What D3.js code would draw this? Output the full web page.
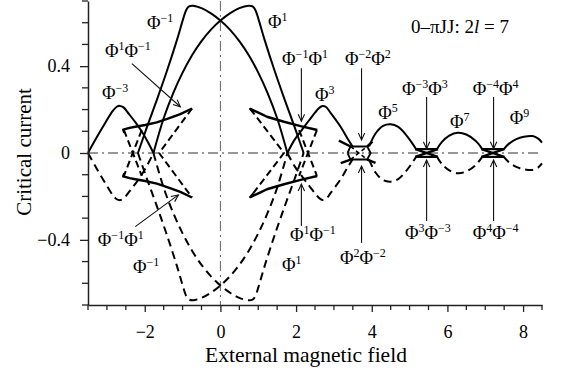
<!DOCTYPE html>
<html><head><meta charset="utf-8">
<script src="https://cdn.jsdelivr.net/npm/d3@7"></script>
<style>
body{margin:0;background:#fff;}
svg{display:block;font-family:"Liberation Serif","Times New Roman",serif;}
</style></head><body>
<svg id="chart" width="568" height="373"></svg>
<script>
// Critical current vs. external field for a 0-pi junction, 2l = 7.
// Each branch is a list of [field, current] pairs.

// positive critical current of the fluxon states (solid)
const phiM3 = [[-3.5,0],[-3.31,0.06],[-3.05,0.137],[-2.85,0.193],[-2.74,0.213],[-2.66,0.217],[-2.56,0.21],[-2.42,0.18],[-2.25,0.142],[-2.07,0.097],[-1.9,0.045],[-1.77,0]];
const phiM1 = [[-2.18,0],[-1.94,0.12],[-1.68,0.245],[-1.41,0.38],[-1.15,0.52],[-0.98,0.62],[-0.9,0.66],[-0.83,0.675],[-0.72,0.678],[-0.5,0.667],[-0.25,0.643],[0,0.61],[0.25,0.568],[0.5,0.515],[0.75,0.45],[1.0,0.37],[1.25,0.275],[1.5,0.16],[1.77,0]];
const phiP1 = [[-1.77,0],[-1.5,0.16],[-1.25,0.275],[-1.0,0.37],[-0.75,0.45],[-0.5,0.515],[-0.25,0.568],[0,0.61],[0.25,0.643],[0.5,0.667],[0.74,0.678],[0.85,0.675],[0.92,0.66],[1.0,0.62],[1.17,0.52],[1.43,0.38],[1.7,0.245],[1.96,0.12],[2.2,0]];
const phiP3 = [[1.77,0],[1.95,0.058],[2.16,0.108],[2.35,0.152],[2.5,0.186],[2.62,0.209],[2.7,0.216],[2.79,0.212],[2.91,0.185],[3.18,0.12],[3.36,0.067],[3.5,0.027]];
const phiP5 = [[3.93,0.03],[4.1,0.09],[4.3,0.125],[4.5,0.132],[4.7,0.12],[4.9,0.085],[5.05,0.05],[5.17,0.018]];
const phiP7 = [[5.72,0.016],[5.85,0.05],[6.05,0.08],[6.27,0.093],[6.5,0.085],[6.75,0.055],[6.92,0.018]];
const phiP9 = [[7.48,0.016],[7.62,0.042],[7.82,0.064],[8.02,0.075],[8.25,0.078],[8.4,0.066],[8.5,0.048]];

// negative critical current of the same states (dashed)
const phiM3n = [[-3.5,0],[-3.31,-0.06],[-3.05,-0.137],[-2.85,-0.193],[-2.74,-0.213],[-2.66,-0.217],[-2.56,-0.21],[-2.42,-0.18],[-2.25,-0.142],[-2.07,-0.097],[-1.9,-0.045],[-1.77,0]];
const phiM1n = [[-2.18,0],[-1.94,-0.12],[-1.68,-0.245],[-1.41,-0.38],[-1.15,-0.52],[-0.98,-0.62],[-0.9,-0.66],[-0.83,-0.675],[-0.72,-0.678],[-0.5,-0.667],[-0.25,-0.643],[0,-0.61],[0.25,-0.568],[0.5,-0.515],[0.75,-0.45],[1.0,-0.37],[1.25,-0.275],[1.5,-0.16],[1.77,0]];
const phiP1n = [[-1.77,0],[-1.5,-0.16],[-1.25,-0.275],[-1.0,-0.37],[-0.75,-0.45],[-0.5,-0.515],[-0.25,-0.568],[0,-0.61],[0.25,-0.643],[0.5,-0.667],[0.74,-0.678],[0.85,-0.675],[0.92,-0.66],[1.0,-0.62],[1.17,-0.52],[1.43,-0.38],[1.7,-0.245],[1.96,-0.12],[2.2,0]];
const phiP3n = [[1.77,0],[1.95,-0.058],[2.16,-0.108],[2.35,-0.152],[2.5,-0.186],[2.62,-0.209],[2.7,-0.216],[2.79,-0.212],[2.91,-0.185],[3.18,-0.12],[3.36,-0.067],[3.5,-0.027]];
const phiP5n = [[3.93,-0.03],[4.1,-0.09],[4.3,-0.125],[4.5,-0.132],[4.7,-0.12],[4.9,-0.085],[5.05,-0.05],[5.17,-0.018]];
const phiP7n = [[5.72,-0.016],[5.85,-0.05],[6.05,-0.08],[6.27,-0.093],[6.5,-0.085],[6.75,-0.055],[6.92,-0.018]];
const phiP9n = [[7.48,-0.016],[7.62,-0.042],[7.82,-0.064],[8.02,-0.075],[8.25,-0.078],[8.4,-0.066],[8.5,-0.048]];

// fluxon-antifluxon states near the first zeros
const arcUpL  = [[-2.54,0.093],[-2.57,0.108],[-2.4,0.116],[-2.25,0.121],[-1.99,0.129],[-1.68,0.141],[-1.37,0.159],[-1.06,0.179],[-0.75,0.205]];
const arcLowL = [[-2.54,-0.093],[-2.57,-0.108],[-2.4,-0.116],[-2.25,-0.121],[-1.99,-0.129],[-1.68,-0.141],[-1.37,-0.159],[-1.06,-0.179],[-0.75,-0.205]];
const arcUpR  = [[0.88,0.186],[0.79,0.203],[1.06,0.181],[1.23,0.167],[1.68,0.144],[2.12,0.124],[2.56,0.106]];
const arcLowR = [[0.88,-0.186],[0.79,-0.203],[1.06,-0.181],[1.23,-0.167],[1.68,-0.144],[2.12,-0.124],[2.56,-0.106]];
const crossL1 = [[-2.55,0.105],[-2.08,-0.105]];
const crossL2 = [[-2.08,0.105],[-2.55,-0.105]];
const wedgeL  = [[-0.75,0.205],[-1.62,0],[-0.75,-0.205]];
const crossR1 = [[2.55,0.105],[2.08,-0.105]];
const crossR2 = [[2.08,0.105],[2.55,-0.105]];
const wedgeR  = [[0.79,0.203],[1.68,0],[0.79,-0.203]];

// higher fluxon-antifluxon states
const hex2 = [[3.36,0],[3.44,0.03],[3.88,0.03],[3.97,0],[3.88,-0.03],[3.44,-0.03],[3.36,0]];
const arms2 = [[[3.13,0.057],[3.44,0.03]],[[3.88,0.03],[4.02,0.052]],[[3.18,-0.047],[3.44,-0.03]],[[3.88,-0.03],[4.1,-0.045]]];
const inner2 = [[[3.44,0.03],[3.88,-0.03]],[[3.44,-0.03],[3.88,0.03]]];
const bow3 = [[[5.15,0.018],[5.75,0.018]],[[5.15,-0.018],[5.75,-0.018]],[[5.15,0.018],[5.75,-0.018]],[[5.15,-0.018],[5.75,0.018]]];
const bow4 = [[[6.9,0.018],[7.5,0.018]],[[6.9,-0.018],[7.5,-0.018]],[[6.9,0.018],[7.5,-0.018]],[[6.9,-0.018],[7.5,0.018]]];

// axis ticks
const xTicks = [-2,0,2,4,6,8];
const yTicks = [-0.4,0,0.4];

// state labels: [field, current, [[base, superscript], ...]]
const labels = [
  [-1.94,0.571,[["Φ","−1"]]],
  [1.26,0.576,[["Φ","1"]]],
  [-3.05,0.442,[["Φ","1"],["Φ","−1"]]],
  [-3.13,0.249,[["Φ","−3"]]],
  [1.63,0.405,[["Φ","−1"],["Φ","1"]]],
  [3.29,0.405,[["Φ","−2"],["Φ","2"]]],
  [2.5,0.239,[["Φ","3"]]],
  [4.17,0.157,[["Φ","5"]]],
  [4.8,0.267,[["Φ","−3"],["Φ","3"]]],
  [6.67,0.267,[["Φ","−4"],["Φ","4"]]],
  [6.07,0.115,[["Φ","7"]]],
  [7.65,0.134,[["Φ","9"]]],
  [-3.24,-0.428,[["Φ","−1"],["Φ","1"]]],
  [-2.31,-0.553,[["Φ","−1"]]],
  [1.84,-0.405,[["Φ","1"],["Φ","−1"]]],
  [1.63,-0.543,[["Φ","1"]]],
  [3.16,-0.511,[["Φ","2"],["Φ","−2"]]],
  [4.88,-0.396,[["Φ","3"],["Φ","−3"]]],
  [6.67,-0.396,[["Φ","4"],["Φ","−4"]]]
];

// pointer arrows: [from, to]
const arrows = [
  [[-2.34,0.412],[-1.06,0.213]],
  [[-2.25,-0.339],[-1.11,-0.193]],
  [[2.14,0.39],[2.14,0.146]],
  [[2.14,-0.336],[2.14,-0.143]],
  [[3.73,0.39],[3.73,0.06]],
  [[3.73,-0.414],[3.73,-0.06]],
  [[5.45,0.258],[5.45,0.02]],
  [[5.45,-0.313],[5.45,-0.032]],
  [[7.22,0.258],[7.22,0.02]],
  [[7.22,-0.313],[7.22,-0.032]]
];

const svg = d3.select("#chart");
const x = d3.scaleLinear().domain([-3.5, 8.5]).range([88, 542]);
const y = d3.scaleLinear().domain([-0.7, 0.7]).range([305, 1]);

svg.append("defs").append("marker")
  .attr("id","head").attr("markerUnits","userSpaceOnUse")
  .attr("markerWidth",12).attr("markerHeight",12)
  .attr("refX",0).attr("refY",0).attr("viewBox","-10 -6 12 12")
  .attr("orient","auto")
  .append("path").attr("d","M-7,-3.2L0,0L-7,3.2")
  .attr("fill","none").attr("stroke","#111").attr("stroke-width",1.1);

// zero reference lines
svg.append("line").attr("x1",x(-3.5)).attr("x2",x(8.5)).attr("y1",y(0)).attr("y2",y(0))
  .attr("stroke","#777").attr("stroke-width",1.6).attr("stroke-dasharray","10,4,2,4");
svg.append("line").attr("x1",x(0)).attr("x2",x(0)).attr("y1",y(0.7)).attr("y2",y(-0.7))
  .attr("stroke","#666").attr("stroke-width",1).attr("stroke-dasharray","10,4,2,4");

const smooth = d3.line().x(d=>x(d[0])).y(d=>y(d[1])).curve(d3.curveCatmullRom.alpha(0.5));
const straight = d3.line().x(d=>x(d[0])).y(d=>y(d[1]));

const g = svg.append("g").attr("fill","none").attr("stroke","#000").attr("stroke-linejoin","round");

[phiM3n, phiM1n, phiP1n, phiP3n, phiP5n, phiP7n, phiP9n].forEach(d =>
  g.append("path").attr("d", smooth(d)).attr("stroke-width",2).attr("stroke-dasharray","8,5"));
[crossL1, crossL2, wedgeL, crossR1, crossR2, wedgeR].forEach(d =>
  g.append("path").attr("d", straight(d)).attr("stroke-width",2).attr("stroke-dasharray","7,4"));
inner2.forEach(d =>
  g.append("path").attr("d", straight(d)).attr("stroke-width",1.6).attr("stroke-dasharray","4,3"));

[phiM3, phiM1, phiP1, phiP3, phiP5, phiP7, phiP9].forEach(d =>
  g.append("path").attr("d", smooth(d)).attr("stroke-width",2));
[arcUpL, arcLowL, arcUpR, arcLowR].forEach(d =>
  g.append("path").attr("d", straight(d)).attr("stroke-width",2.4));
g.append("path").attr("d", straight(hex2)).attr("stroke-width",1.8);
arms2.forEach(d => g.append("path").attr("d", straight(d)).attr("stroke-width",2.4));
bow3.concat(bow4).forEach(d => g.append("path").attr("d", straight(d)).attr("stroke-width",2.2));

// arrows
arrows.forEach(([a,b]) => svg.append("line")
  .attr("x1",x(a[0])).attr("y1",y(a[1])).attr("x2",x(b[0])).attr("y2",y(b[1]))
  .attr("stroke","#111").attr("stroke-width",1.1).attr("marker-end","url(#head)"));

// state labels with superscripts
labels.forEach(([lx, ly, parts]) => {
  const t = svg.append("text").attr("x",x(lx)).attr("y",y(ly)).attr("font-size",18.5).attr("fill","#000");
  parts.forEach(([b,s], i) => {
    t.append("tspan").attr("dy", i ? 7 : 0).text(b);
    t.append("tspan").attr("font-size",12).attr("dy",-7).text(s);
  });
});

// axes
const fmt = d => d < 0 ? "\u2212" + Math.abs(d) : String(d);
const ax = svg.append("g").attr("transform",`translate(0,${y(-0.7)})`)
  .call(d3.axisBottom(x).tickValues(xTicks).tickFormat(fmt).tickSize(7).tickSizeOuter(0).tickPadding(13));
const ay = svg.append("g").attr("transform",`translate(${x(-3.5)},0)`)
  .call(d3.axisLeft(y).tickValues(yTicks).tickFormat(fmt).tickSize(8).tickSizeOuter(0).tickPadding(10));
[ax, ay].forEach(a => {
  a.select(".domain").attr("stroke","#222").attr("stroke-width",1.5);
  a.selectAll(".tick line").attr("stroke","#222").attr("stroke-width",1.3);
  a.selectAll(".tick text").attr("font-family","Liberation Serif").attr("font-size",18).attr("fill","#000");
});
// minor ticks
const xMinor = d3.range(-3.5, 8.51, 0.5).filter(v => !xTicks.includes(v));
ax.selectAll(".minor").data(xMinor).enter().append("line")
  .attr("x1",d=>x(d)).attr("x2",d=>x(d)).attr("y1",0).attr("y2",5)
  .attr("stroke","#222").attr("stroke-width",1.3);
const yMinor = d3.range(-7, 8).map(k => k/10).filter(v => !yTicks.includes(v));
ay.selectAll(".minor").data(yMinor).enter().append("line")
  .attr("x1",-6).attr("x2",0).attr("y1",d=>y(d)).attr("y2",d=>y(d))
  .attr("stroke","#222").attr("stroke-width",1.3);

// axis titles
svg.append("text").attr("x",306).attr("y",362).attr("text-anchor","middle")
  .attr("font-size",21.5).text("External magnetic field");
svg.append("text").attr("transform","translate(31,152) rotate(-90)").attr("text-anchor","middle")
  .attr("font-size",21).text("Critical current");

// panel title
const title = svg.append("text").attr("x",411).attr("y",33).attr("font-size",19);
title.append("tspan").text("0–πJJ: 2");
title.append("tspan").attr("font-style","italic").text("l");
title.append("tspan").text(" = 7");
</script>
</body></html>
